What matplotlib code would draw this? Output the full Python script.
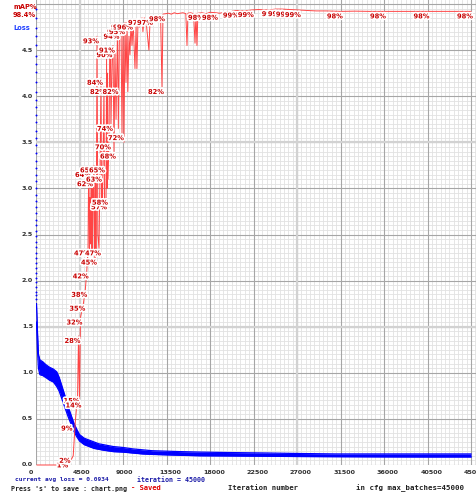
import matplotlib
matplotlib.use("Agg")
import matplotlib.pyplot as plt
import matplotlib.patheffects as pe
import numpy as np

# ---------------- data ----------------
max_batches = 45000
x_ticks = [0, 4500, 9000, 13500, 18000, 22500, 27000, 31500, 36000, 40500, 45000]
x_tick_labels = ["0", "4500", "9000", "13500", "18000", "22500", "27000", "31500", "36000", "40500", "45000"]
y_ticks = [0.0, 0.5, 1.0, 1.5, 2.0, 2.5, 3.0, 3.5, 4.0, 4.5]
y_tick_labels = ["0.0", "0.5", "1.0", "1.5", "2.0", "2.5", "3.0", "3.5", "4.0", "4.5"]

# very first iterations (loss dots on the left axis)
early_iter = list(range(0, 44))
early_loss = [4.95, 4.85, 4.74, 4.65, 4.55, 4.44, 4.35, 4.26, 4.15, 4.05, 3.96, 3.88, 3.80, 3.72,
              3.62, 3.55, 3.47, 3.38, 3.30, 3.22, 3.15, 3.08, 3.00, 2.93, 2.86, 2.80, 2.73, 2.66,
              2.60, 2.54, 2.48, 2.42, 2.36, 2.30, 2.25, 2.19, 2.14, 2.08, 2.03, 1.98, 1.93, 1.88,
              1.84, 1.80]

# loss band (upper / lower envelope of the noisy loss trace)
loss_iter = [50, 150, 250, 400, 700, 1000, 1400, 1800, 2150, 2400, 2700, 3000, 3300, 3600, 3900,
             4200, 4500, 5000, 5500, 6000, 6500, 7000, 8000, 9000, 10000, 11000, 12000, 13500,
             15000, 17000, 20000, 24000, 27000, 31000, 36000, 40000, 45000]
loss_hi = [1.75, 1.45, 1.20, 1.14, 1.12, 1.09, 1.06, 1.04, 1.01, 0.95, 0.85, 0.75, 0.64, 0.55, 0.46,
           0.39, 0.33, 0.29, 0.27, 0.25, 0.23, 0.22, 0.20, 0.19, 0.175, 0.165, 0.155, 0.15,
           0.145, 0.14, 0.135, 0.13, 0.125, 0.12, 0.12, 0.12, 0.12]
loss_lo = [1.55, 1.25, 1.05, 0.98, 0.97, 0.95, 0.92, 0.90, 0.85, 0.80, 0.71, 0.62, 0.53, 0.45, 0.37,
           0.31, 0.26, 0.22, 0.20, 0.18, 0.17, 0.16, 0.145, 0.14, 0.13, 0.12, 0.115, 0.11,
           0.105, 0.10, 0.098, 0.095, 0.092, 0.09, 0.088, 0.087, 0.087]

# mAP evaluations (iteration, mAP %, labelled?)
map_iter = [100, 600, 1100, 1600, 2100, 2600, 3100, 3600, 3850, 4050, 4300, 4400, 4500, 4600,
            4900, 5100, 5250, 5380, 5430, 5480, 5530, 5580, 5640, 5690, 5750, 5800, 5850, 5900,
            6000, 6050, 6103, 6150, 6200, 6250, 6310, 6400, 6517,
            6620, 6724, 6780, 6830, 6880, 6931, 7034, 7090, 7140, 7241, 7300, 7350, 7400, 7450,
            7552, 7620, 7700, 7758, 7870, 7965,
            8069, 8170, 8280, 8330, 8430, 8520, 8620, 8793, 8896, 9000, 9100, 9207, 9310, 9414,
            9500, 9620, 9720, 9827, 9930, 10050, 10240, 10350, 10440, 10550, 10700, 10965, 11060,
            11200, 11400, 11680, 11790, 11896, 12100, 12400, 12700, 12900, 13034, 13138, 13400,
            13700, 14000, 14300, 14600, 14900, 15200, 15500, 15620, 15720, 16000, 16300, 16450,
            16550, 16650, 16750, 17170, 17600, 18000, 18620, 19000, 19500, 20000, 20780, 21500,
            22330, 23000, 24000, 24800, 25440, 26260, 27200, 28000, 29000, 30000, 31540, 33000,
            34500, 36000, 38000, 40500, 43000, 45000]
map_val = [0, 0, 0, 0, 0, 0, 0, 1.0, 2.0, 9, 15, 28, 14, 32,
           35, 38, 42, 47, 60, 64, 46, 58, 48, 62, 46, 60, 47, 55,
           65, 50, 45, 62, 46, 60, 93, 50, 47,
           63, 84, 56, 62, 57, 65, 82, 58, 57, 58, 88, 60, 85, 62,
           70, 88, 90, 74, 88, 91,
           68, 90, 75, 82, 94, 73, 92, 95, 72, 95, 70, 96, 83, 96,
           81, 93, 89, 96, 91, 96, 86, 95, 86, 96, 95, 97, 94,
           97, 96, 90, 96, 97, 97, 96.5, 97, 96, 82, 97.8, 97.9,
           98.0, 97.8, 98.1, 97.9, 98.0, 98.1, 97.9, 91, 98.0, 98.1, 97.9, 91.5,
           98.0, 91, 98.0, 98.1, 97.9, 98.2, 98.1, 98.0, 98.2, 98.3, 98.6, 98.5,
           98.7, 98.8, 98.7, 98.9, 98.9, 98.8, 98.7, 98.6, 98.5, 98.5, 98.4, 98.45,
           98.4, 98.4, 98.4, 98.4, 98.4, 98.4]
map_lab = [0, 0, 0, 0, 0, 0, 0, 1, 1, 1, 1, 1, 1, 1,
           1, 1, 1, 1, 0, 1, 0, 0, 0, 1, 0, 0, 0, 0,
           1, 0, 1, 0, 0, 0, 1, 0, 1,
           1, 1, 0, 0, 0, 1, 1, 0, 1, 1, 0, 0, 0, 0,
           1, 0, 1, 1, 0, 1,
           1, 0, 0, 1, 1, 0, 0, 1, 1, 1, 0, 1, 0, 1,
           0, 0, 0, 1, 0, 0, 0, 0, 0, 0, 0, 1, 0,
           0, 0, 0, 0, 1, 0, 0, 0, 0, 1, 1, 0,
           0, 0, 0, 0, 0, 0, 0, 0, 0, 0, 0, 0,
           0, 0, 0, 1, 0, 0, 1, 0, 0, 0, 1, 0,
           1, 0, 0, 1, 1, 1, 1, 0, 0, 0, 1, 0,
           0, 1, 0, 1, 0, 1]

last_map = "98.4%"
avg_loss_text = "current avg loss = 0.0934"
iter_text = "iteration = 45000"

# ---------------- layout ----------------
W, H = 476, 497
X0, Y0 = 36, 465          # pixel of (0, 0)
PX_PER_ITER = 43.5 / 4500
PX_PER_LOSS = 92.2
PT = 0.72                 # points per pixel at dpi 100

fig = plt.figure(figsize=(W / 100, H / 100), dpi=100)
fig.patch.set_facecolor("white")
ax = fig.add_axes([X0 / W, (H - Y0) / H, (W - X0) / W, Y0 / H])
ax.set_xlim(0, (W - X0) / PX_PER_ITER)
ax.set_ylim(0, Y0 / PX_PER_LOSS)
ax.set_axis_off()

# grid
for xv in np.arange(0, 45600, 450):
    ax.axvline(xv, color="#e2e2e2", lw=0.6, zorder=0)
for yv in np.arange(0, 5.06, 0.05):
    ax.axhline(yv, color="#e2e2e2", lw=0.6, zorder=0)
for xv in x_ticks:
    ax.axvline(xv, color="#a6a6a6", lw=0.8, zorder=0.5)
for yv in y_ticks + [5.0]:
    ax.axhline(yv, color="#a6a6a6", lw=0.8, zorder=0.5)
for xv in [4500, 27000]:
    ax.axvline(xv, color="#d2d2d2", lw=1.6, zorder=0.6)
for yv in [1.5, 3.5]:
    ax.axhline(yv, color="#d2d2d2", lw=1.6, zorder=0.6)

# loss
blue = "#0000ff"
ax.fill_between(loss_iter, loss_lo, loss_hi, color=blue, lw=0, zorder=2)
ax.plot(loss_iter, loss_hi, color=blue, lw=0.9, zorder=2)
ax.plot(loss_iter, loss_lo, color=blue, lw=0.9, zorder=2)
ax.plot(early_iter, early_loss, "o", ms=1.4, color=blue, mec="none", zorder=2, clip_on=False)

# mAP
map_y = np.array(map_val) / 20.0
ax.plot(map_iter, map_y, color="#ff4545", lw=0.7, zorder=3, clip_on=False)
halo = [pe.withStroke(linewidth=2.4, foreground="white")]
for it, v, lab in zip(map_iter, map_val, map_lab):
    if lab:
        ax.annotate(f"{v:.0f}%", (it, v / 20.0), xytext=(-14 * PT, -7 * PT),
                    textcoords="offset points", ha="left", va="baseline",
                    fontsize=4.8, color="#c80000", fontweight="bold",
                    path_effects=halo, zorder=5, annotation_clip=False)

# tick labels
for xv, lbl in zip(x_ticks, x_tick_labels):
    ax.annotate(lbl, (xv, 0), xytext=(-7 * PT, -9 * PT), textcoords="offset points",
                ha="left", va="baseline", fontsize=4.6, color="#303030",
                fontweight="bold", annotation_clip=False)
for yv, lbl in zip(y_ticks, y_tick_labels):
    ax.annotate(lbl, (0, yv), xytext=(-3 * PT, 0), textcoords="offset points",
                ha="right", va="center", fontsize=4.6, color="#303030",
                fontweight="bold", annotation_clip=False)

# header texts
def ftext(px, py, s, **kw):
    fig.text(px / W, 1 - py / H, s, **kw)

ftext(13, 7, "mAP%", ha="left", va="center", fontsize=4.8, color="#c80000", fontweight="bold")
ftext(13, 15, last_map, ha="left", va="center", fontsize=4.8, color="#c80000", fontweight="bold")
ftext(13, 28, "Loss", ha="left", va="center", fontsize=4.8, color="#2040ff", fontweight="bold")

# footer texts
mono = "DejaVu Sans Mono"
ftext(15, 480, avg_loss_text, ha="left", va="center", fontsize=4.4, color="#1c1ca8", family=mono, fontweight="bold")
ftext(137, 480, iter_text, ha="left", va="center", fontsize=4.8, color="#1c1ca8", family=mono, fontweight="bold")
ftext(11, 488.5, "Press 's' to save : chart.png", ha="left", va="center", fontsize=4.8, color="#202020", family=mono, fontweight="bold")
ftext(131, 488.5, "- Saved", ha="left", va="center", fontsize=5.1, color="#e00000", family=mono, fontweight="bold")
ftext(228, 488.5, "Iteration number", ha="left", va="center", fontsize=5.2, color="#202020", family=mono, fontweight="bold")
ftext(356, 488.5, "in cfg max_batches=45000", ha="left", va="center", fontsize=5.3, color="#202020", family=mono, fontweight="bold")

fig.savefig("out.png", dpi=100, facecolor="white")
